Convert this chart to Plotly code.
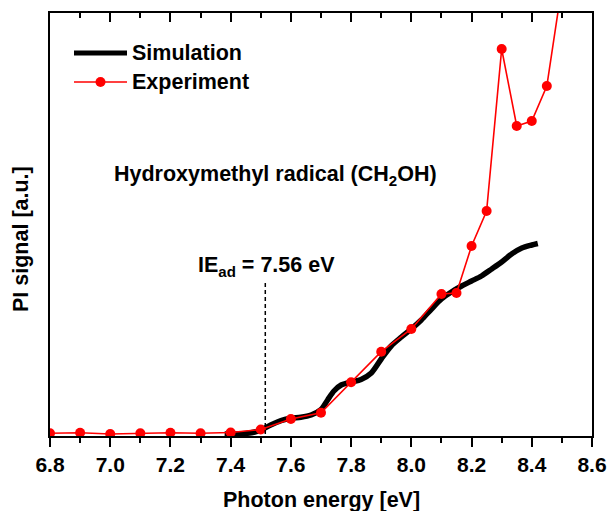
import plotly.graph_objects as go

# Photoionization spectrum of the hydroxymethyl radical
sim_energy = [7.38, 7.42, 7.45, 7.48, 7.50, 7.533, 7.567, 7.60, 7.633, 7.667, 7.70,
              7.722, 7.743, 7.767, 7.80, 7.833, 7.867, 7.90, 7.933, 7.967, 8.00,
              8.033, 8.067, 8.10, 8.133, 8.167, 8.20, 8.233, 8.267, 8.30, 8.333,
              8.367, 8.40, 8.42]
sim_signal = [0.0, 0.0, 0.005, 0.02, 0.04, 0.09, 0.133, 0.157, 0.167, 0.19, 0.245,
              0.34, 0.43, 0.49, 0.52, 0.545, 0.61, 0.75, 0.88, 0.97, 1.05,
              1.14, 1.25, 1.35, 1.42, 1.48, 1.53, 1.58, 1.65, 1.72, 1.80,
              1.86, 1.89, 1.905]

exp_energy = [6.8, 6.9, 7.0, 7.1, 7.2, 7.3, 7.4, 7.5, 7.6, 7.7, 7.8, 7.9, 8.0,
              8.1, 8.15, 8.2, 8.25, 8.3, 8.35, 8.4, 8.45, 8.5]
exp_signal = [0.007, 0.013, 0.0, 0.007, 0.013, 0.007, 0.015, 0.045, 0.15, 0.213,
              0.517, 0.823, 1.05, 1.40, 1.41, 1.88, 2.23, 3.85, 3.08, 3.13, 3.48, 4.48]

ie_marker_x = 7.515
ie_marker_top = 1.54

x_range = [6.8, 8.6]
y_range = [-0.02, 4.21]

FONT = "Liberation Sans, Arial, sans-serif"
W, H = 610, 511
L, R, T, B = 50, 18, 13, 75


def paper_x(px):
    return (px - L) / (W - L - R)


def paper_y(py):
    return (H - B - py) / (H - B - T)


fig = go.Figure()

fig.add_trace(go.Scatter(
    x=sim_energy, y=sim_signal, mode="lines", name="Simulation",
    line=dict(color="black", width=5.5, shape="spline", smoothing=0.8),
    showlegend=False,
))
fig.add_trace(go.Scatter(
    x=exp_energy, y=exp_signal, mode="lines+markers", name="Experiment",
    line=dict(color="#ff0000", width=1.6),
    marker=dict(color="#ff0000", size=10),
    showlegend=False,
))
# IE marker
fig.add_trace(go.Scatter(
    x=[ie_marker_x, ie_marker_x], y=[0, ie_marker_top], mode="lines",
    line=dict(color="black", width=1.5, dash="4px,3px"),
    showlegend=False, hoverinfo="skip",
))
# carrier for the mirrored top axis
fig.add_trace(go.Scatter(x=[None], y=[None], xaxis="x2", showlegend=False))

# Legend glyphs
leg_x0, leg_x1 = paper_x(74), paper_x(127)
fig.add_shape(type="line", xref="paper", yref="paper",
              x0=leg_x0, x1=leg_x1, y0=paper_y(53), y1=paper_y(53),
              line=dict(color="black", width=5))
fig.add_shape(type="line", xref="paper", yref="paper",
              x0=leg_x0, x1=leg_x1, y0=paper_y(82), y1=paper_y(82),
              line=dict(color="#ff0000", width=1.6))
fig.add_shape(type="circle", xref="paper", yref="paper",
              x0=paper_x(95.5), x1=paper_x(105.5), y0=paper_y(77), y1=paper_y(87),
              fillcolor="#ff0000", line=dict(color="#ff0000", width=0))

bold = dict(family=FONT, size=21.5, color="black", weight="bold")

annotations = [
    dict(text="Simulation", x=paper_x(130), y=paper_y(53), xanchor="left", yanchor="middle"),
    dict(text="Experiment", x=paper_x(130), y=paper_y(82), xanchor="left", yanchor="middle"),
    dict(text="Hydroxymethyl radical (CH<sub>2</sub>OH)", x=paper_x(112), y=paper_y(175),
         xanchor="left", yanchor="middle"),
    dict(text="IE<sub>ad</sub> = 7.56 eV", x=paper_x(196), y=paper_y(266),
         xanchor="left", yanchor="middle"),
    dict(text="PI signal [a.u.]", x=paper_x(21), y=paper_y(239), textangle=-90,
         xanchor="center", yanchor="middle"),
    dict(text="Photon energy [eV]", x=paper_x(321), y=paper_y(500),
         xanchor="center", yanchor="middle"),
]
for a in annotations:
    fig.add_annotation(xref="paper", yref="paper", showarrow=False, font=bold, **a)

fig.update_layout(
    width=W, height=H,
    margin=dict(l=L, r=R, t=T, b=B, pad=0),
    paper_bgcolor="white", plot_bgcolor="white",
    showlegend=False,
    xaxis=dict(
        range=x_range, showgrid=False, zeroline=False, automargin=False,
        showline=True, linecolor="black", linewidth=2, mirror=True,
        ticks="outside", ticklen=9, tickwidth=2, tickcolor="black",
        tick0=6.8, dtick=0.2, tickformat=".1f",
        tickfont=dict(family=FONT, size=21, color="black", weight="bold"),
        minor=dict(ticks="outside", ticklen=5, tickwidth=2, tickcolor="black", dtick=0.1),
    ),
    xaxis2=dict(
        range=x_range, overlaying="x", side="top", matches="x", automargin=False,
        showgrid=False, zeroline=False, showline=False, showticklabels=False,
        ticks="inside", ticklen=9, tickwidth=2, tickcolor="black",
        tick0=6.8, dtick=0.2,
        minor=dict(ticks="inside", ticklen=5, tickwidth=2, tickcolor="black", dtick=0.1),
    ),
    yaxis=dict(
        range=y_range, showgrid=False, zeroline=False, automargin=False,
        showline=True, linecolor="black", linewidth=2, mirror=True,
        ticks="", showticklabels=False,
    ),
)

fig.write_html("out.html")
